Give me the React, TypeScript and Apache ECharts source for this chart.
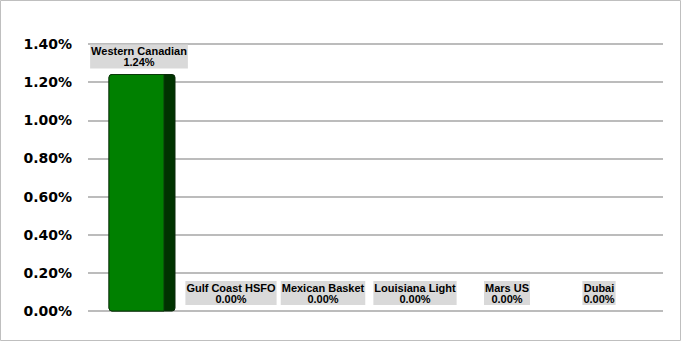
import React, { useEffect, useRef } from "react";
import * as echarts from "echarts";

const categories = ["Western Canadian", "Gulf Coast HSFO", "Mexican Basket", "Louisiana Light", "Mars US", "Dubai"];
const values = [1.24, 0, 0, 0, 0, 0];
const yMin = 0;
const yMax = 1.4;
const yStep = 0.2;

export default function App() {
  const ref = useRef<HTMLDivElement>(null);
  useEffect(() => {
    if (!ref.current) return;
    const chart = echarts.init(ref.current, undefined, { renderer: "svg" });
    const option: any = {
      animation: false,
      backgroundColor: "#ffffff",
      grid: [
        { left: 88, right: 18, top: 44, bottom: 30 },
        { left: 93, width: 552, top: 44, bottom: 30 },
      ],
      xAxis: [
        { type: "category", gridIndex: 0, data: categories, show: false },
        {
          type: "category",
          gridIndex: 1,
          data: categories,
          axisLine: { show: false },
          axisTick: { show: false },
          axisLabel: { show: false },
        },
      ],
      yAxis: [
        {
          type: "value",
          gridIndex: 0,
          min: yMin,
          max: yMax,
          interval: yStep,
          axisLine: { show: false },
          axisTick: { show: false },
          splitLine: { lineStyle: { color: "#a6a6a6", width: 1.5 } },
          axisLabel: {
            margin: 16,
            color: "#000000",
            fontWeight: "bold",
            fontSize: 14,
            fontFamily: "DejaVu Sans",
            formatter: (v: number) => v.toFixed(2) + "%",
          },
        },
        {
          type: "value",
          gridIndex: 1,
          min: yMin,
          max: yMax,
          interval: yStep,
          show: false,
          splitLine: { show: false },
        },
      ],
      graphic: [
        {
          type: "rect",
          shape: { x: 0.5, y: 0.5, width: 680, height: 340 },
          style: { fill: "none", stroke: "#bfbfbf", lineWidth: 1 },
          silent: true,
        },
      ],
      series: [
        {
          type: "custom",
          xAxisIndex: 1,
          yAxisIndex: 1,
          data: values.map((v, i) => [i, v]),
          encode: { x: 0, y: 1 },
          renderItem: (params: any, api: any) => {
            const i = api.value(0);
            const v = api.value(1);
            const top = api.coord([i, v]);
            const base = api.coord([i, 0]);
            const cx = top[0];
            const children: any[] = [];
            if (v > 0) {
              const h = base[1] - top[1];
              children.push({
                type: "rect",
                shape: { x: cx - 30, y: top[1], width: 66, height: h, r: 3 },
                style: { fill: "#003300", stroke: "#0a2a0a", lineWidth: 1 },
              });
              children.push({
                type: "rect",
                shape: { x: cx - 30, y: top[1], width: 55, height: h, r: [3, 0, 0, 3] },
                style: { fill: "#008000", stroke: "#0a3a0a", lineWidth: 1 },
              });
            }
            children.push({
              type: "text",
              style: {
                x: cx,
                y: top[1] - 6,
                text: categories[i] + "\n" + v.toFixed(2) + "%",
                align: "center",
                verticalAlign: "bottom",
                fill: "#000000",
                font: 'bold 11px "Liberation Sans", Arial, sans-serif',
                lineHeight: 11,
                backgroundColor: "#d9d9d9",
                padding: [1, 1, 1, 1],
              },
            });
            return { type: "group", children };
          },
        },
      ],
    };
    chart.setOption(option);
    return () => chart.dispose();
  }, []);
  return (
    <div
      ref={ref}
      style={{ position: "fixed", left: 0, top: 0, width: 681, height: 341 }}
    />
  );
}
